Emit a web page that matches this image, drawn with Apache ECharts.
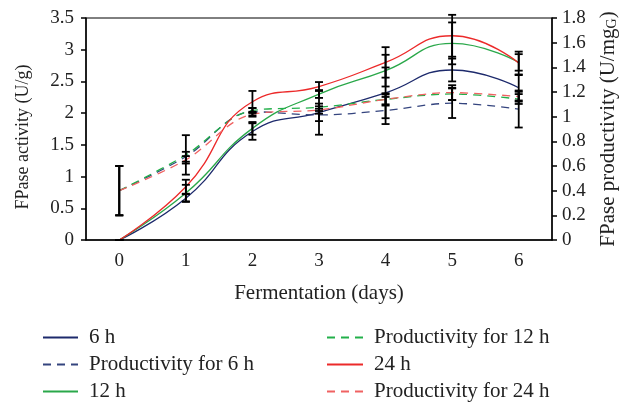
<!DOCTYPE html>
<html>

<head>
	<meta charset="utf-8">
	<title>FPase activity</title>
	<script src="https://cdn.jsdelivr.net/npm/echarts@6/dist/echarts.min.js"></script>
</head>

<body style="margin:0">
	<div id="chart" style="width:628px;height:403px;"></div>
	<script>
		var days = ['0', '1', '2', '3', '4', '5', '6'];

		// FPase activity (U/g), left axis
		var act6 = [0, 0.66, 1.71, 2.01, 2.32, 2.68, 2.40];
		var act12 = [0, 0.74, 1.76, 2.30, 2.67, 3.10, 2.80];
		var act24 = [0, 0.84, 2.18, 2.42, 2.80, 3.22, 2.79];
		// FPase productivity (U/mgG), right axis
		var prod6 = [0.40, 0.675, 1.04, 1.014, 1.05, 1.109, 1.062];
		var prod12 = [0.40, 0.69, 1.05, 1.076, 1.14, 1.184, 1.143];
		var prod24 = [0.40, 0.65, 1.02, 1.054, 1.14, 1.195, 1.162];

		// error bars (same units as the series)
		var err6 = [0, 0.06, 0.13, 0.35, 0.40, 0.18, 0.20];
		var err12 = [0, 0.13, 0.10, 0.06, 0.25, 0.33, 0.13];
		var err24 = [0, 0.11, 0.17, 0.07, 0.24, 0.33, 0.18];
		var errP6 = [0.20, 0.04, 0.03, 0.05, 0.11, 0.12, 0.15];
		var errP12 = [0.20, 0.16, 0.02, 0.03, 0.05, 0.05, 0.04];
		var errP24 = [0.20, 0.03, 0.02, 0.03, 0.04, 0.06, 0.04];

		var font = 'Liberation Serif';

		function lineSeries(name, data, color, dashed, axis) {
			return {
				name: name,
				type: 'line',
				yAxisIndex: axis,
				data: data,
				smooth: dashed ? 0.35 : 0.5,
				symbol: 'none',
				z: 2,
				lineStyle: { color: color, width: 1.3, type: dashed ? [8, 6] : 'solid' },
				itemStyle: { color: color }
			};
		}

		function errSeries(vals, errs, axis) {
			var d = [];
			for (var i = 0; i < vals.length; i++) d.push([i, vals[i], errs[i]]);
			return {
				type: 'custom',
				yAxisIndex: axis,
				data: d,
				z: 5,
				clip: false,
				encode: { x: 0, y: 1 },
				silent: true,
				renderItem: function (params, api) {
					var x = api.value(0), y = api.value(1), e = api.value(2);
					var top = api.coord([x, y + e]);
					var bot = api.coord([x, y - e]);
					var w = 4;
					var st = { stroke: '#000', lineWidth: 1.8 };
					return {
						type: 'group',
						children: [
							{ type: 'line', shape: { x1: top[0], y1: top[1], x2: bot[0], y2: bot[1] }, style: st },
							{ type: 'line', shape: { x1: top[0] - w, y1: top[1], x2: top[0] + w, y2: top[1] }, style: st },
							{ type: 'line', shape: { x1: bot[0] - w, y1: bot[1], x2: bot[0] + w, y2: bot[1] }, style: st }
						]
					};
				}
			};
		}

		var navy = '#1d2a6c', navyD = '#34447e';
		var green = '#2aa84a', greenD = '#22b04a';
		var red = '#ec2a2a', redD = '#f06262';

		var legendText = { fontFamily: font, fontSize: 21, lineHeight: 21, color: '#222', padding: [0, 0, 0, 6] };

		var option = {
			animation: false,
			grid: { left: 86, right: 76, top: 18, bottom: 163, show: true, borderColor: '#000', borderWidth: 1 },
			legend: [
				{
					left: 42, top: 327, orient: 'vertical', padding: 0, itemWidth: 35, itemHeight: 14, itemGap: 6,
					textStyle: legendText, itemStyle: { opacity: 0 },
					data: ['6 h', 'Productivity for 6 h', '12 h']
				},
				{
					left: 326, top: 327, orient: 'vertical', padding: 0, itemWidth: 36, itemHeight: 14, itemGap: 6,
					textStyle: legendText, itemStyle: { opacity: 0 },
					data: ['Productivity for 12 h', '24 h', 'Productivity for 24 h']
				}
			],
			xAxis: {
				type: 'category',
				data: days,
				name: 'Fermentation (days)',
				nameLocation: 'middle',
				nameGap: 43,
				nameTextStyle: { fontFamily: font, fontSize: 21, color: '#222' },
				axisLine: { lineStyle: { color: '#000', width: 1.5 } },
				axisTick: { length: 5, interval: 0, lineStyle: { color: '#000', width: 1.5 } },
				axisLabel: { fontFamily: font, fontSize: 19, color: '#222', margin: 12 }
			},
			yAxis: [
				{
					type: 'value', min: 0, max: 3.5, interval: 0.5,
					name: 'FPase activity (U/g)',
					nameLocation: 'middle', nameRotate: 90, nameGap: 54,
					nameTextStyle: { fontFamily: font, fontSize: 18, color: '#222', padding: [0, 16, 0, 0] },
					axisLine: { show: true, lineStyle: { color: '#000', width: 1.5 } },
					axisTick: { show: true, length: 5, lineStyle: { color: '#000', width: 1.5 } },
					axisLabel: { fontFamily: font, fontSize: 19, color: '#222', margin: 12 },
					splitLine: { show: false }
				},
				{
					type: 'value', min: 0, max: 1.8, interval: 0.2,
					name: 'FPase productivity (U/mg{s|G})',
					nameLocation: 'middle', nameRotate: 90, nameGap: 45,
					nameTextStyle: {
						fontFamily: font, fontSize: 21, color: '#222', lineHeight: 22,
						rich: { s: { fontFamily: font, fontSize: 14, color: '#222', lineHeight: 8, verticalAlign: 'bottom' } }
					},
					axisLine: { show: true, lineStyle: { color: '#000', width: 1.5 } },
					axisTick: { show: true, length: 5, lineStyle: { color: '#000', width: 1.5 } },
					axisLabel: { fontFamily: font, fontSize: 19, color: '#222', margin: 10 },
					splitLine: { show: false }
				}
			],
			series: [
				lineSeries('6 h', act6, navy, false, 0),
				lineSeries('Productivity for 6 h', prod6, navyD, true, 1),
				lineSeries('12 h', act12, green, false, 0),
				lineSeries('Productivity for 12 h', prod12, greenD, true, 1),
				lineSeries('24 h', act24, red, false, 0),
				lineSeries('Productivity for 24 h', prod24, redD, true, 1),
				errSeries(act6, err6, 0),
				errSeries(act12, err12, 0),
				errSeries(act24, err24, 0),
				errSeries(prod6, errP6, 1),
				errSeries(prod12, errP12, 1),
				errSeries(prod24, errP24, 1)
			]
		};

		var myChart = echarts.init(document.getElementById('chart'));
		myChart.setOption(option);
	</script>
</body>

</html>
